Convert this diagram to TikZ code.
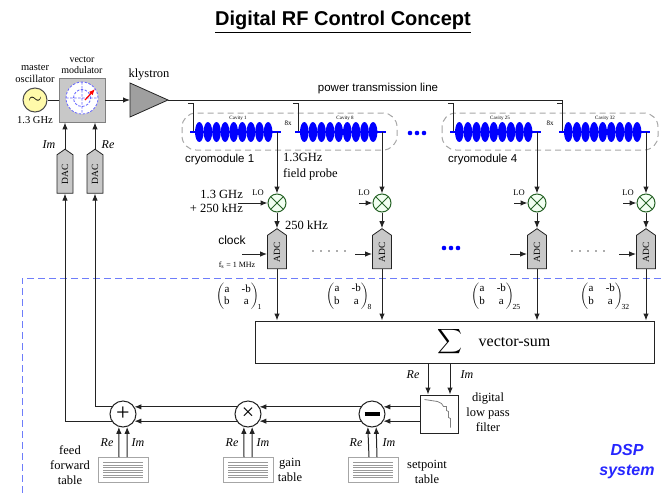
\documentclass[tikz,border=0pt]{standalone}
\usepackage{fontspec}
\setmainfont{Liberation Serif}
\setsansfont{Liberation Sans}
\usepackage{amsmath}
\usepackage{tikz}
\usetikzlibrary{calc}
\usetikzlibrary{positioning}
\usetikzlibrary{arrows.meta}
\usetikzlibrary{shapes.symbols}

\definecolor{linegray}{RGB}{35,35,35}
\definecolor{boxgray}{RGB}{200,200,200}
\definecolor{cavblue}{RGB}{0,0,255}
\definecolor{dspblue}{RGB}{110,125,250}
\definecolor{mixgreen}{RGB}{40,100,40}
\definecolor{oscyellow}{RGB}{255,250,170}

% one string of cells: x of the coupler tap, name of the probe point
\newcommand{\cavstring}[2]{%
  \draw[linegray, line width=1pt] (#1-5,103) -- (#1,103) -- (#1,132);
  \draw[cavblue, line width=2.5pt] (#1-3,132) -- (#1+88,132);
  \foreach \c in {0,...,8}
    \fill[cavblue] (#1+6.3+8.6*\c,132) ellipse (4.3pt and 10pt);
  \coordinate (#2) at (#1+84,132);
}

% rotation matrix with its index
\newcommand{\rotmat}[1]{{\arraycolsep=6pt
  $\begin{pmatrix}\text{a} & \text{-b}\\ \text{b} & \text{a}\end{pmatrix}_{\!\text{#1}}$}}

\begin{document}
\begin{tikzpicture}[x=1pt, y=-1pt,
    every node/.style={inner sep=0pt},
    wire/.style={draw=linegray, line width=1pt},
    arr/.style={-{Latex[length=7pt,width=5.5pt]}, draw=linegray, line width=1pt},
    conv/.style={shape=signal, signal to=east, signal pointer angle=110, rotate=90,
        draw=linegray, fill=boxgray, line width=0.8pt,
        font=\fontsize{9.5}{9.5}\selectfont},
    mixer/.style={circle, draw=mixgreen, fill=green!5, line width=1pt, minimum size=18pt,
        path picture={\draw[mixgreen, line width=0.9pt]
          (path picture bounding box.north west) -- (path picture bounding box.south east)
          (path picture bounding box.north east) -- (path picture bounding box.south west);}},
    sumpt/.style={circle, draw=linegray, fill=white, line width=1pt, minimum size=26pt},
    tablebox/.style={draw=gray!70, fill=white, line width=0.8pt,
        minimum width=50pt, minimum height=25pt,
        path picture={\foreach \k in {-7.5,-5,...,7.5}
          \draw[gray!80, line width=0.9pt]
            ([xshift=5pt,yshift=\k pt]path picture bounding box.west) --
            ([xshift=-5pt,yshift=\k pt]path picture bounding box.east);}},
    cryo/.style={draw=gray!70, dashed, dash pattern=on 6pt off 4pt, line width=1pt,
        rounded corners=14pt},
    serif/.style={font=\fontsize{12.5}{15}\selectfont},
    tiny/.style={font=\fontsize{5}{5}\selectfont},
    sans/.style={font=\sffamily\fontsize{11.5}{13}\selectfont},
    reim/.style={font=\itshape\fontsize{12}{12}\selectfont},
    matr/.style={font=\fontsize{11}{12.5}\selectfont}
  ]
  \useasboundingbox (0,0) rectangle (661,493);

  % title
  \node[font=\sffamily\bfseries\fontsize{20}{22}\selectfont] (title) at (343,22)
    {\underline{Digital RF Control Concept}};

  % oscillator, modulator and klystron
  \node[circle, draw=gray!60!black, fill=oscyellow, line width=1pt, minimum size=24pt]
    (osc) at (35,100) {\fontsize{18}{18}\selectfont$\sim$};
  \node[font=\fontsize{10.5}{12}\selectfont, align=center, above=5pt of osc] (osclbl)
    {master\\oscillator};
  \node[font=\fontsize{10.5}{12}\selectfont, below=4pt of osc] (oscf) {1.3 GHz};

  \node[draw=gray, fill=boxgray, line width=0.8pt, minimum width=46pt, minimum height=44pt]
    (vm) at (82,100) {};
  \node[font=\fontsize{10}{10.5}\selectfont, align=center, above=4pt of vm] (vmlbl)
    {vector\\modulator};
  \begin{scope}[shift={(vm.center)}]
    \fill[white] (0,-2) circle (16pt);
    \draw[cavblue!60, dash pattern=on 2.5pt off 1.5pt, line width=0.8pt]
      (0,-2) circle (16pt) (0,-2) circle (8.5pt)
      (-16,-2) -- (16,-2) (0,-18) -- (0,14);
    \draw[red, line width=1.2pt, -{Latex[length=6pt,width=5pt]}] (3,0) -- (13,-11);
  \end{scope}
  \draw[wire] (osc) -- (vm);

  \coordinate (kin) at (130,100);
  \coordinate (kout) at (168,100);
  \draw[draw=linegray, fill=gray!75, line width=0.8pt] (130,83) -- (kout) -- (130,117) -- cycle;
  \node[serif] (klylbl) at (149,75) {klystron};
  \draw[arr] (vm) -- (kin);

  % power line and cryomodules
  \draw[wire] (kout) -- (562,100) -- (562,103);
  \node[sans] (pwr) at (378,89) {power transmission line};

  \draw[cryo] (182,113) rectangle (397,150);
  \draw[cryo] (442,113) rectangle (658,150);
  \cavstring{193}{pr1}
  \cavstring{298}{pr2}
  \cavstring{453}{pr3}
  \cavstring{562}{pr4}
  \node[tiny] (cav1) at (238,118) {Cavity 1};
  \node[tiny] (cav8) at (345,118) {Cavity 8};
  \node[tiny] (cav25) at (500,118) {Cavity 25};
  \node[tiny] (cav32) at (605,118) {Cavity 32};
  \node[font=\fontsize{7}{7}\selectfont] (n8a) at (288,123) {8x};
  \node[font=\fontsize{7}{7}\selectfont] (n8b) at (550,123) {8x};
  \foreach \d in {0,1,2} \fill[cavblue] (410+7*\d,133) circle (2.3pt);

  \node[sans, anchor=west] (cm1) at (185,160) {cryomodule 1};
  \node[sans, anchor=west] (cm4) at (448,160) {cryomodule 4};
  \node[font=\fontsize{12.5}{16.5}\selectfont, align=left, anchor=north west] (fp)
    at (283,153) {1.3GHz\\field probe};

  % down conversion and sampling
  \node[mixer] (mx1) at (277,203) {};
  \node[mixer] (mx2) at (382,203) {};
  \node[mixer] (mx3) at (537,203) {};
  \node[mixer] (mx4) at (646,203) {};

  \node[conv, minimum width=40pt, minimum height=19pt] (adc1) at (277,252) {ADC};
  \node[conv, minimum width=40pt, minimum height=19pt] (adc2) at (382,252) {ADC};
  \node[conv, minimum width=40pt, minimum height=19pt] (adc3) at (537,252) {ADC};
  \node[conv, minimum width=40pt, minimum height=19pt] (adc4) at (646,252) {ADC};

  \draw[arr] (pr1) -- (mx1);
  \draw[arr] (pr2) -- (mx2);
  \draw[arr] (pr3) -- (mx3);
  \draw[arr] (pr4) -- (mx4);
  \draw[arr] (mx1) -- (adc1.east);
  \draw[arr] (mx2) -- (adc2.east);
  \draw[arr] (mx3) -- (adc3.east);
  \draw[arr] (mx4) -- (adc4.east);

  \coordinate (lo1) at (238,203);
  \coordinate (lo2) at (359,203);
  \coordinate (lo3) at (514,203);
  \coordinate (lo4) at (623,203);
  \draw[arr] (lo1) -- (mx1);
  \draw[arr] (lo2) -- (mx2);
  \draw[arr] (lo3) -- (mx3);
  \draw[arr] (lo4) -- (mx4);
  \node[font=\fontsize{8.5}{8.5}\selectfont] (lol1) at (258,193) {LO};
  \node[font=\fontsize{8.5}{8.5}\selectfont] (lol2) at (364,193) {LO};
  \node[font=\fontsize{8.5}{8.5}\selectfont] (lol3) at (519,193) {LO};
  \node[font=\fontsize{8.5}{8.5}\selectfont] (lol4) at (628,193) {LO};
  \node[font=\fontsize{12.5}{14}\selectfont, align=right, anchor=east] (lofreq)
    at (243,201) {1.3 GHz\\+ 250 kHz};
  \node[serif, anchor=west] (iflbl) at (285,225) {250 kHz};

  \coordinate (ck1) at (242,254);
  \coordinate (ck2) at (355,254);
  \coordinate (ck3) at (510,254);
  \coordinate (ck4) at (619,254);
  \draw[arr] (ck1) -- (ck1 -| adc1.north);
  \draw[arr] (ck2) -- (ck2 -| adc2.north);
  \draw[arr] (ck3) -- (ck3 -| adc3.north);
  \draw[arr] (ck4) -- (ck4 -| adc4.north);
  \node[font=\sffamily\fontsize{12}{12}\selectfont] (clk) at (232,240) {clock};
  \node[font=\fontsize{8}{8}\selectfont] (fs) at (237,265) {f$_{\text{s}}$ = 1 MHz};
  \foreach \d in {0,...,4} \fill[gray!70!black] (313+8*\d,251) circle (0.8pt);
  \foreach \d in {0,...,4} \fill[gray!70!black] (572+8*\d,251) circle (0.8pt);
  \foreach \d in {0,1,2} \fill[cavblue] (444+7*\d,248) circle (2.3pt);

  % DSP border
  \draw[dspblue, dash pattern=on 7pt off 4pt, line width=1pt] (661,278) -- (22,278) -- (22,493);
  \node[font=\sffamily\bfseries\itshape\fontsize{16}{20}\selectfont, align=center,
    text=cavblue!85!white] (dsp) at (627,462) {DSP\\system};

  % rotation matrices and vector sum
  \node[matr] (m1) at (239,296) {\rotmat{1}};
  \node[matr] (m2) at (349,296) {\rotmat{8}};
  \node[matr] (m3) at (496,296) {\rotmat{25}};
  \node[matr] (m4) at (605,296) {\rotmat{32}};

  \node[draw=linegray, fill=white, line width=1pt, minimum width=399pt, minimum height=42pt]
    (vs) at (454.5,342) {};
  \node[font=\fontsize{16}{16}\selectfont] (vslbl) at (494,342)
    {$\displaystyle\sum$\quad vector-sum};
  \draw[arr] (adc1.west) -- (adc1.west |- vs.north);
  \draw[arr] (adc2.west) -- (adc2.west |- vs.north);
  \draw[arr] (adc3.west) -- (adc3.west |- vs.north);
  \draw[arr] (adc4.west) -- (adc4.west |- vs.north);

  % low pass filter
  \node[draw=linegray, fill=white, line width=1pt, minimum size=38pt] (flt) at (439,414) {};
  \begin{scope}[shift={(flt.north west)}]
    \draw[gray, line width=0.8pt] (5,5) -- (18,7) -- (22,9) -- (24,12) -- (27,12) -- (27,16)
      -- (29,17) -- (29,23) -- (31,24) -- (31,33);
  \end{scope}
  \node[serif, align=center] (fltlbl) at (488,412) {digital\\low pass\\filter};
  \draw[arr] ([xshift=-11pt]flt.north |- vs.south) -- ([xshift=-11pt]flt.north);
  \draw[arr] ([xshift=11pt]flt.north |- vs.south) -- ([xshift=11pt]flt.north);
  \node[reim] (vsre) at (413,375) {Re};
  \node[reim] (vsim) at (467,375) {Im};

  % setpoint, gain and feed forward
  \node[sumpt] (minus) at (372,414) {\rule{15pt}{4.5pt}};
  \node[sumpt] (times) at (248,414) {\fontsize{22}{22}\selectfont ×};
  \node[sumpt] (plus) at (123,414) {\fontsize{24}{24}\selectfont +};

  \draw[arr] (flt.west |- minus.32) -- (minus.32);
  \draw[arr] (flt.west |- minus.328) -- (minus.328);
  \draw[arr] (minus.148) -- (times.32);
  \draw[arr] (minus.212) -- (times.328);
  \draw[arr] (times.148) -- (plus.32);
  \draw[arr] (times.212) -- (plus.328);

  \node[tablebox] (ff) at (123,470) {};
  \node[tablebox] (gain) at (248,470) {};
  \node[tablebox] (setp) at (373,470) {};
  \draw[arr] ([xshift=-4pt]ff.north) -- (plus.252);
  \draw[arr] ([xshift=4pt]ff.north) -- (plus.288);
  \draw[arr] ([xshift=-4pt]gain.north) -- (times.252);
  \draw[arr] ([xshift=4pt]gain.north) -- (times.288);
  \draw[arr] ([xshift=-4pt]setp.north) -- (minus.252);
  \draw[arr] ([xshift=4pt]setp.north) -- (minus.288);

  \node[reim] (ffre) at (107,443) {Re};
  \node[reim] (ffim) at (138,443) {Im};
  \node[reim] (gre) at (232,443) {Re};
  \node[reim] (gim) at (263,443) {Im};
  \node[reim] (sre) at (356,443) {Re};
  \node[reim] (sim) at (389,443) {Im};

  \node[serif, align=center] (fflbl) at (70,465) {feed\\forward\\table};
  \node[serif, align=center] (glbl) at (290,470) {gain\\table};
  \node[serif, align=center] (slbl) at (427,472) {setpoint\\table};

  % DACs back to the modulator
  \node[conv, minimum width=44pt, minimum height=16pt] (dac1) at (65,174) {DAC};
  \node[conv, minimum width=44pt, minimum height=16pt] (dac2) at (95,174) {DAC};
  \draw[arr] (dac1.east) -- (dac1.east |- vm.south);
  \draw[arr] (dac2.east) -- (dac2.east |- vm.south);
  \draw[arr] (plus.212) -| (dac1.west);
  \draw[arr] (plus.148) -| (dac2.west);
  \node[reim] (dim) at (49,145) {Im};
  \node[reim] (dre) at (108,145) {Re};

\end{tikzpicture}
\end{document}
